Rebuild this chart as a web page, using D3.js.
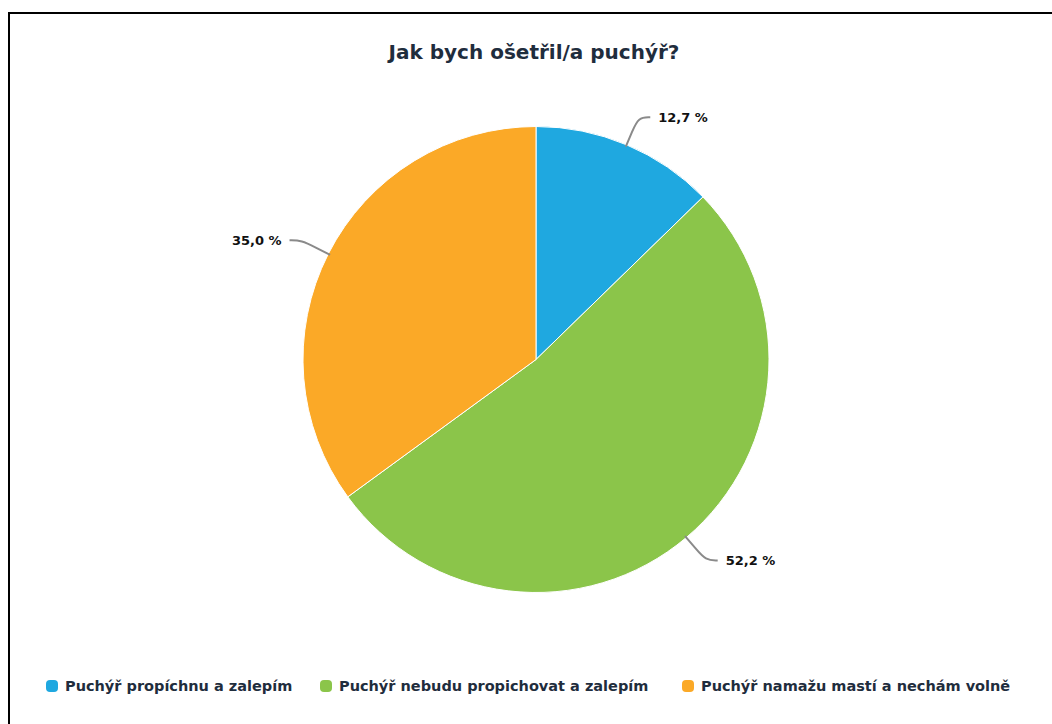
<!DOCTYPE html>
<html>
<head>
<meta charset="utf-8">
<script src="https://cdn.jsdelivr.net/npm/d3@7.9.0/dist/d3.min.js"></script>
<style>
  html, body { margin: 0; padding: 0; background: #fff; }
  svg { display: block; }
</style>
</head>
<body>
<svg id="chart" width="1052" height="724"></svg>
<script>
const title = 'Jak bych ošetřil/a puchýř?';
const categories = [
  'Puchýř propíchnu a zalepím',
  'Puchýř nebudu propichovat a zalepím',
  'Puchýř namažu mastí a nechám volně'
];
const values = [12.7, 52.2, 35.0];
const colorList = ['#1fa8e0', '#8bc54a', '#fba927'];

const width = 1052, height = 724;
const cx = 536, cy = 359.5, radius = 233;
const font = 'DejaVu Sans, sans-serif';

const svg = d3.select('#chart');

// frame (only top and left edges are visible in the picture)
svg.append('path')
  .attr('d', `M9,${height} V13 H${width}`)
  .attr('fill', 'none')
  .attr('stroke', '#000')
  .attr('stroke-width', 2);

svg.append('text')
  .attr('x', 534)
  .attr('y', 59)
  .attr('text-anchor', 'middle')
  .attr('font-family', font)
  .attr('font-weight', 700)
  .attr('font-size', 20)
  .attr('fill', '#1f2d3d')
  .text(title);

const data = categories.map((c, i) => ({ label: c, value: values[i] }));
const color = d3.scaleOrdinal().domain(categories).range(colorList);

const pie = d3.pie().sort(null).value((d) => d.value);
const arcs = pie(data);
const arc = d3.arc().innerRadius(0).outerRadius(radius);

const g = svg.append('g').attr('transform', `translate(${cx},${cy})`);

g.selectAll('path.slice')
  .data(arcs)
  .join('path')
  .attr('class', 'slice')
  .attr('d', arc)
  .attr('fill', (d) => color(d.data.label))
  .attr('stroke', '#fff')
  .attr('stroke-width', 1);

// leader lines + labels
const fmt = (v) => d3.format('.1f')(v).replace('.', ',') + ' %';

arcs.forEach((d) => {
  const a = (d.startAngle + d.endAngle) / 2;
  const sx = Math.sin(a), sy = -Math.cos(a);
  const p0 = [sx * (radius - 2), sy * (radius - 2)];
  const p1 = [sx * (radius + 30), sy * (radius + 30)];
  const dir = sx >= 0 ? 1 : -1;
  const p2 = [p1[0] + dir * 12, p1[1]];
  g.append('path')
    .attr('d', d3.line().curve(d3.curveBasis)([p0, p0.map((v, k) => (v + p1[k]) / 2), p1, p2]))
    .attr('fill', 'none')
    .attr('stroke', '#8a8a8a')
    .attr('stroke-width', 2);
  g.append('text')
    .attr('x', p2[0] + dir * 8)
    .attr('y', p2[1])
    .attr('dy', '0.35em')
    .attr('text-anchor', dir > 0 ? 'start' : 'end')
    .attr('font-family', font)
    .attr('font-weight', 700)
    .attr('font-size', 13)
    .attr('fill', '#111')
    .text(fmt(d.data.value));
});

// legend
const legendX = [46, 320, 682];
const legend = svg.append('g').attr('transform', 'translate(0,686)');
categories.forEach((c, i) => {
  const item = legend.append('g').attr('transform', `translate(${legendX[i]},0)`);
  item.append('rect')
    .attr('x', 0).attr('y', -6)
    .attr('width', 12).attr('height', 12)
    .attr('rx', 4)
    .attr('fill', color(c));
  item.append('text')
    .attr('x', 19)
    .attr('y', 0)
    .attr('dy', '0.35em')
    .attr('font-family', font)
    .attr('font-weight', 700)
    .attr('font-size', 14.5)
    .attr('fill', '#1f2d3d')
    .text(c);
});
</script>
</body>
</html>
